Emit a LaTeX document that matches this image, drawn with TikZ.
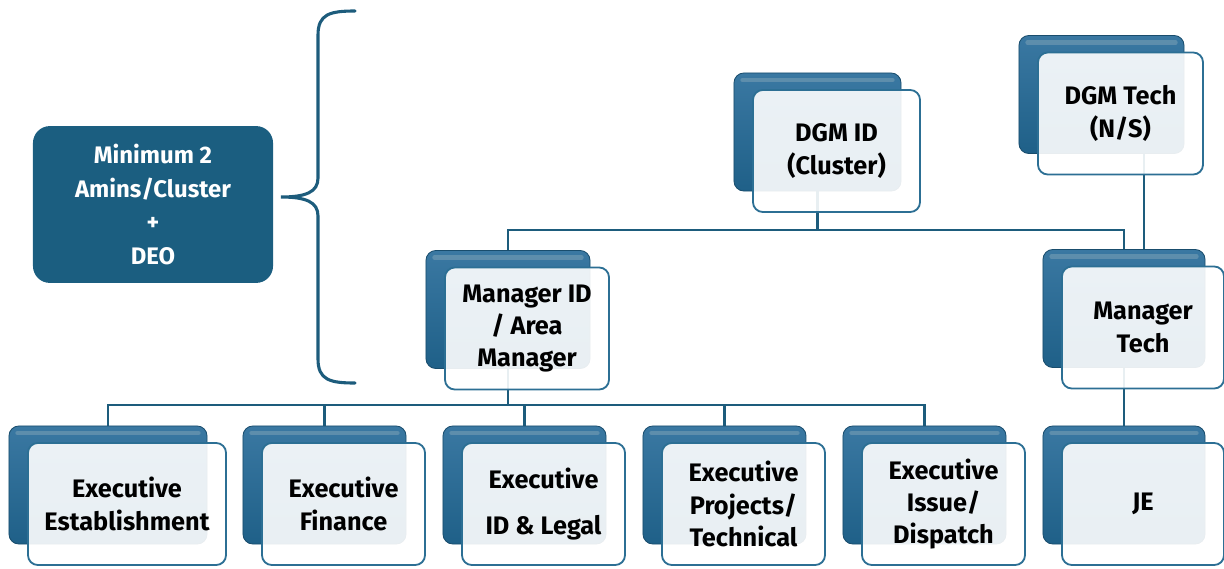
\documentclass[tikz,border=0pt]{standalone}
\usepackage{fontspec}
\setmainfont{Fira Sans}
\usetikzlibrary{backgrounds}

\definecolor{boxblue}{HTML}{1F6088}
\definecolor{topblue}{HTML}{3A78A2}
\definecolor{edgeblue}{HTML}{2C6F94}
\definecolor{lineblue}{HTML}{1D5C7C}
\definecolor{leftblue}{HTML}{1B5E80}

\tikzset{
  backbox/.style={rounded corners=7pt, draw=boxblue!80!black, line width=0.6pt,
    top color=topblue, bottom color=boxblue, minimum height=2.95cm, inner sep=0pt,
    path picture={\draw[white!35!boxblue, line width=3pt, line cap=round, opacity=0.7]
      ([xshift=6pt,yshift=-5pt]path picture bounding box.north west) --
      ([xshift=-6pt,yshift=-5pt]path picture bounding box.north east);}},
  frontbox/.style={rounded corners=7pt, draw=edgeblue, line width=1.3pt,
    fill=white, fill opacity=0.9, text opacity=1, minimum height=3.05cm,
    inner sep=2pt, align=center, font=\fontsize{18}{23}\selectfont\bfseries},
  leftbox/.style={rounded corners=12pt, fill=leftblue, text=white, align=center,
    minimum width=6cm, minimum height=3.92cm,
    font=\fontsize{17}{24}\selectfont\bfseries},
  conn/.style={draw=lineblue, line width=1.8pt}
}

% back box centre, width, text
\newcommand{\orgbox}[4]{%
  \node[backbox, minimum width=#3] (b#1) at (#2) {};
  \node[frontbox, minimum width=#3] (#1) at ([shift={(19,19)}]b#1.center) {#4};
}

\begin{document}
\begin{tikzpicture}[x=0.025cm, y=-0.025cm]
\useasboundingbox (0,0) rectangle (1224,568);

\orgbox{dgmid}{817.5,132}{4.175cm}{DGM ID\\(Cluster)}
\orgbox{dgmtech}{1101.5,94.5}{4.125cm}{DGM Tech\\(N/S)}
\orgbox{mgrid}{508,309.5}{4.1cm}{Manager ID\\/ Area\\Manager}
\orgbox{mgrtech}{1124,308.5}{4.05cm}{Manager\\Tech}
\orgbox{estab}{108,485}{4.95cm}{Executive\\Establishment}
\orgbox{finance}{324.5,485}{4.075cm}{Executive\\Finance}
\orgbox{idlegal}{524.5,485}{4.075cm}{Executive\\[0.33cm]ID \& Legal}
\orgbox{projects}{724.5,485}{4.075cm}{Executive\\Projects/\\Technical}
\orgbox{issue}{924.5,485}{4.075cm}{Executive\\Issue/\\Dispatch}
\orgbox{je}{1124,485}{4.05cm}{JE}

\node[leftbox] (amins) at (153,204.5) {Minimum 2\\Amins/Cluster\\+\\DEO};

\coordinate (topbus) at (0,230);
\coordinate (lowbus) at (0,405);

\begin{scope}[on background layer]
  \draw[conn] (bdgmid.south) -- (bdgmid.south |- topbus);
  \draw[conn] (bmgrid.north) |- (topbus -| bmgrtech.north) -- (bmgrtech.north);
  \draw[conn] ([xshift=1.06cm]bdgmtech.south) -- ([xshift=1.06cm]bdgmtech.south |- bmgrtech.north);
  \draw[conn] (bmgrtech.south) -- (bje.north);
  \draw[conn] (bmgrid.south) -- (bmgrid.south |- lowbus);
  \draw[conn] (bestab.north) |- (lowbus -| bissue.north) -- (bissue.north);
  \foreach \n in {finance,idlegal,projects}
    \draw[conn] (b\n.north) -- (b\n.north |- lowbus);
\end{scope}

% brace
\draw[lineblue, line width=2.2pt, line cap=round]
  (355,11) .. controls (330,11) and (318,14) .. (318,35) -- (318,178)
  .. controls (318,192) and (306,197) .. (281,197)
  .. controls (306,197) and (318,202) .. (318,216) -- (318,359)
  .. controls (318,380) and (330,383) .. (355,383);
\end{tikzpicture}
\end{document}
